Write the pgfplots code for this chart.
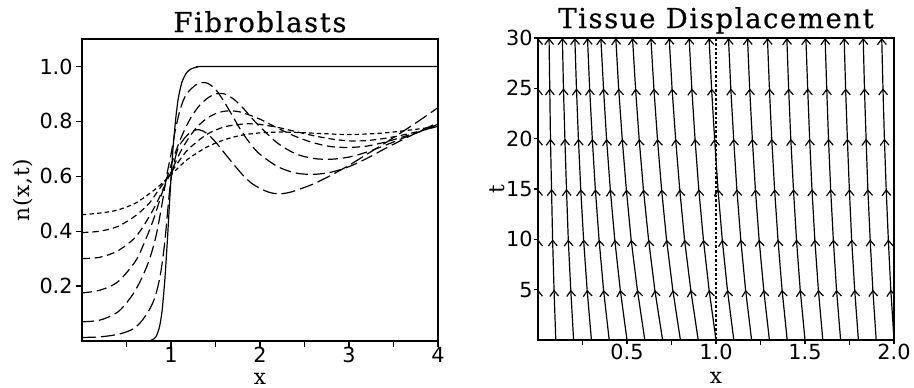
\documentclass[border=0pt]{standalone}
\usepackage{fontspec}
\setmainfont{DejaVu Serif}
\newfontfamily\titlefont[LetterSpace=6,FakeBold=0.6]{DejaVu Serif}
\newfontfamily\labelfont[LetterSpace=4]{DejaVu Serif}
\newfontfamily\tickfont{DejaVu Sans}
\usepackage{pgfplots}
\pgfplotsset{compat=1.18}
\usetikzlibrary{decorations.markings,arrows.meta}

\pgfplotsset{
  every axis title shift=0pt,
  panel/.style={
    scale only axis, width=178pt, height=151pt,
    axis line style={line width=0.7pt},
    tick align=outside, tick pos=left,
    major tick length=3pt, minor tick length=3pt,
    every tick/.style={line width=0.6pt, black},
    tick label style={font=\tickfont\fontsize{10.4}{11}\selectfont},
    xticklabel style={inner sep=0.5pt, yshift=0.5pt},
    yticklabel style={inner sep=1.5pt},
    /pgf/number format/assume math mode=true,
    title style={font=\titlefont\fontsize{13.7}{15}\selectfont, at={(axis description cs:0.5,1)}, anchor=base, yshift=3.5pt},
    label style={font=\labelfont\fontsize{10.8}{12}\selectfont},
    xlabel style={at={(axis description cs:0.5,0)}, anchor=base, yshift=-21.6pt, inner sep=0pt},
  },
  prof/.style={line width=0.6pt, black, smooth, tension=0.5},
  traj/.style={line width=0.6pt, black,
    postaction={decorate},
    decoration={markings,
      mark=at position 0.1667 with {\arrow{Straight Barb[length=2.8pt,width=4.4pt,line width=0.6pt]}},
      mark=at position 0.3333 with {\arrow{Straight Barb[length=2.8pt,width=4.4pt,line width=0.6pt]}},
      mark=at position 0.5 with {\arrow{Straight Barb[length=2.8pt,width=4.4pt,line width=0.6pt]}},
      mark=at position 0.6667 with {\arrow{Straight Barb[length=2.8pt,width=4.4pt,line width=0.6pt]}},
      mark=at position 0.8333 with {\arrow{Straight Barb[length=2.8pt,width=4.4pt,line width=0.6pt]}},
      mark=at position 1 with {\arrow{Straight Barb[length=2.8pt,width=4.4pt,line width=0.6pt]}}}},
}

\begin{document}
\begin{tikzpicture}
% ---------------- Left panel ----------------
\begin{axis}[panel, at={(0pt,0pt)}, anchor=south west,
  title={Fibroblasts}, xlabel={x}, ylabel={n(x,t)},
  ylabel style={at={(axis description cs:-0.166,0.5)}, anchor=center},
  xmin=0, xmax=4, ymin=0, ymax=1.1,
  xtick={1,2,3,4}, minor xtick={0.5,1.5,2.5,3.5},
  ytick={0.2,0.4,0.6,0.8,1.0},
  yticklabel style={/pgf/number format/.cd, fixed, fixed zerofill, precision=1},
]
% initial condition (solid)
\addplot[prof, tension=0.4] coordinates {(0,0) (0.7,0) (0.78,0.003) (0.83,0.015) (0.87,0.05) (0.9,0.11) (0.93,0.22) (0.96,0.37) (0.99,0.54) (1.02,0.69) (1.05,0.8) (1.08,0.88) (1.12,0.94) (1.17,0.975) (1.22,0.99) (1.3,0.998) (1.5,1) (4,1)};
% A
\addplot[prof, dash pattern=on 7pt off 2.5pt] coordinates {(0,0.013) (0.2,0.015) (0.4,0.024) (0.55,0.04) (0.65,0.065) (0.75,0.11) (0.82,0.16) (0.88,0.24) (0.93,0.36) (0.97,0.5) (1.0,0.59) (1.05,0.67) (1.1,0.715) (1.2,0.755) (1.3,0.77) (1.4,0.757) (1.5,0.725) (1.6,0.685) (1.7,0.645) (1.8,0.607) (1.9,0.576) (2.0,0.556) (2.1,0.542) (2.2,0.536) (2.3,0.539) (2.4,0.548) (2.6,0.572) (2.8,0.604) (3.0,0.64) (3.2,0.68) (3.4,0.72) (3.6,0.762) (3.8,0.805) (4.0,0.85)};
% B
\addplot[prof, dash pattern=on 6pt off 2.5pt] coordinates {(0,0.07) (0.2,0.076) (0.4,0.105) (0.55,0.16) (0.65,0.215) (0.75,0.29) (0.83,0.38) (0.9,0.5) (0.95,0.6) (1.0,0.68) (1.05,0.77) (1.1,0.84) (1.15,0.885) (1.2,0.91) (1.3,0.937) (1.4,0.94) (1.5,0.917) (1.6,0.87) (1.7,0.815) (1.8,0.76) (1.9,0.715) (2.0,0.68) (2.2,0.635) (2.4,0.612) (2.6,0.607) (2.8,0.615) (3.0,0.635) (3.2,0.665) (3.4,0.7) (3.6,0.733) (3.8,0.765) (4.0,0.795)};
% C
\addplot[prof, dash pattern=on 5pt off 2.5pt] coordinates {(0,0.175) (0.2,0.185) (0.4,0.215) (0.6,0.29) (0.7,0.358) (0.8,0.44) (0.9,0.54) (1.0,0.64) (1.1,0.73) (1.2,0.8) (1.3,0.85) (1.4,0.882) (1.5,0.9) (1.6,0.9) (1.7,0.882) (1.8,0.852) (1.9,0.815) (2.0,0.78) (2.2,0.72) (2.4,0.682) (2.6,0.665) (2.8,0.662) (3.0,0.67) (3.2,0.688) (3.4,0.712) (3.6,0.738) (3.8,0.763) (4.0,0.79)};
% D
\addplot[prof, dash pattern=on 4pt off 2.3pt] coordinates {(0,0.3) (0.2,0.305) (0.4,0.328) (0.6,0.378) (0.75,0.45) (0.85,0.51) (0.95,0.58) (1.0,0.615) (1.1,0.685) (1.2,0.74) (1.3,0.782) (1.4,0.81) (1.5,0.828) (1.6,0.837) (1.7,0.838) (1.8,0.832) (2.0,0.808) (2.2,0.775) (2.4,0.745) (2.6,0.722) (2.8,0.708) (3.0,0.705) (3.2,0.71) (3.4,0.724) (3.6,0.743) (3.8,0.763) (4.0,0.785)};
% E
\addplot[prof, dash pattern=on 3.2pt off 2pt] coordinates {(0,0.395) (0.2,0.4) (0.4,0.417) (0.6,0.456) (0.75,0.5) (0.85,0.545) (0.95,0.59) (1.0,0.613) (1.1,0.66) (1.2,0.7) (1.4,0.752) (1.6,0.78) (1.8,0.79) (1.9,0.791) (2.0,0.789) (2.2,0.778) (2.4,0.763) (2.6,0.748) (2.8,0.736) (3.0,0.729) (3.2,0.73) (3.4,0.738) (3.6,0.75) (3.8,0.765) (4.0,0.782)};
% F
\addplot[prof, dash pattern=on 2.2pt off 1.6pt] coordinates {(0,0.46) (0.2,0.466) (0.4,0.477) (0.6,0.502) (0.75,0.535) (0.85,0.56) (0.95,0.59) (1.0,0.605) (1.1,0.637) (1.2,0.665) (1.4,0.706) (1.6,0.733) (1.8,0.75) (2.0,0.758) (2.2,0.761) (2.4,0.76) (2.6,0.757) (2.8,0.754) (3.0,0.752) (3.2,0.754) (3.4,0.758) (3.6,0.765) (3.8,0.773) (4.0,0.782)};
\end{axis}

% ---------------- Right panel ----------------
\begin{axis}[panel, at={(228pt,0.5pt)}, anchor=south west,
  title={Tissue Displacement}, xlabel={x}, ylabel={t},
  title style={yshift=1.5pt},
  ylabel style={at={(axis description cs:-0.115,0.5)}, anchor=center},
  xmin=0, xmax=2, ymin=0, ymax=30,
  xtick={0.5,1.0,1.5,2.0}, minor xtick={0.25,0.75,1.25,1.75},
  ytick={5,10,15,20,25,30},
  major tick length=2pt, minor tick length=2.5pt,
  yticklabel style={inner sep=0.5pt},
  xticklabel style={/pgf/number format/.cd, fixed, fixed zerofill, precision=1},
]
\addplot[line width=0.6pt, dash pattern=on 1.3pt off 1pt] coordinates {(1,0) (1,30)};
\addplot[traj] coordinates {(0,0) (0,5) (0,10) (0,15) (0,20) (0,25) (0,30)};
\addplot[traj] coordinates {(0.1,0) (0.090,5) (0.082,10) (0.076,15) (0.070,20) (0.066,25) (0.062,30)};
\addplot[traj] coordinates {(0.2,0) (0.184,5) (0.170,10) (0.160,15) (0.151,20) (0.143,25) (0.137,30)};
\addplot[traj] coordinates {(0.3,0) (0.276,5) (0.256,10) (0.240,15) (0.227,20) (0.216,25) (0.207,30)};
\addplot[traj] coordinates {(0.4,0) (0.368,5) (0.343,10) (0.322,15) (0.305,20) (0.290,25) (0.278,30)};
\addplot[traj] coordinates {(0.5,0) (0.462,5) (0.431,10) (0.406,15) (0.385,20) (0.368,25) (0.353,30)};
\addplot[traj] coordinates {(0.6,0) (0.558,5) (0.523,10) (0.496,15) (0.473,20) (0.453,25) (0.437,30)};
\addplot[traj] coordinates {(0.7,0) (0.656,5) (0.621,10) (0.592,15) (0.568,20) (0.548,25) (0.531,30)};
\addplot[traj] coordinates {(0.8,0) (0.757,5) (0.722,10) (0.694,15) (0.671,20) (0.651,25) (0.634,30)};
\addplot[traj] coordinates {(0.9,0) (0.858,5) (0.823,10) (0.796,15) (0.773,20) (0.753,25) (0.737,30)};
\addplot[traj] coordinates {(1.0,0) (0.961,5) (0.929,10) (0.903,15) (0.882,20) (0.864,25) (0.849,30)};
\addplot[traj] coordinates {(1.1,0) (1.064,5) (1.035,10) (1.011,15) (0.992,20) (0.975,25) (0.961,30)};
\addplot[traj] coordinates {(1.2,0) (1.166,5) (1.139,10) (1.117,15) (1.099,20) (1.083,25) (1.070,30)};
\addplot[traj] coordinates {(1.3,0) (1.268,5) (1.242,10) (1.221,15) (1.204,20) (1.189,25) (1.177,30)};
\addplot[traj] coordinates {(1.4,0) (1.371,5) (1.348,10) (1.329,15) (1.313,20) (1.300,25) (1.289,30)};
\addplot[traj] coordinates {(1.5,0) (1.473,5) (1.452,10) (1.435,15) (1.420,20) (1.408,25) (1.398,30)};
\addplot[traj] coordinates {(1.6,0) (1.575,5) (1.555,10) (1.539,15) (1.526,20) (1.515,25) (1.505,30)};
\addplot[traj] coordinates {(1.7,0) (1.677,5) (1.659,10) (1.644,15) (1.632,20) (1.622,25) (1.613,30)};
\addplot[traj] coordinates {(1.8,0) (1.779,5) (1.762,10) (1.749,15) (1.738,20) (1.728,25) (1.720,30)};
\addplot[traj] coordinates {(1.9,0) (1.881,5) (1.866,10) (1.853,15) (1.843,20) (1.834,25) (1.827,30)};
\addplot[traj] coordinates {(2.0,0) (1.982,5) (1.968,10) (1.956,15) (1.946,20) (1.938,25) (1.931,30)};
\end{axis}
\pgfresetboundingbox
\path[use as bounding box] (-41pt,-23pt) rectangle (416pt,170.5pt);
\end{tikzpicture}
\end{document}
